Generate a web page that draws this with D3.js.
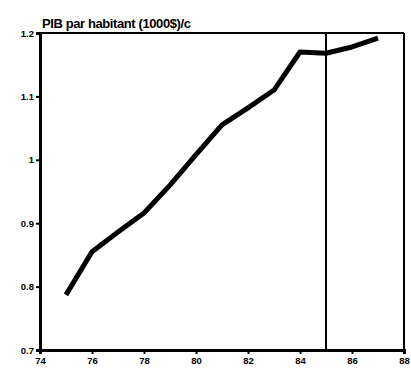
<!DOCTYPE html>
<html>
<head>
<meta charset="utf-8">
<script src="https://cdn.jsdelivr.net/npm/d3@7"></script>
<style>
  body { margin: 0; background: #fff; }
  svg { display: block; }
</style>
</head>
<body>
<div id="chart"></div>
<script>
const width = 411;
const height = 371;
const margin = {top: 33, right: 7, bottom: 21, left: 40};
const innerWidth = width - margin.left - margin.right;
const innerHeight = height - margin.top - margin.bottom;

// PIB par habitant, 1975-1987
const years = [75, 76, 77, 78, 79, 80, 81, 82, 83, 84, 85, 86, 87];
const pib = [0.787, 0.855, 0.886, 0.916, 0.960, 1.008, 1.055, 1.082, 1.110, 1.170, 1.168, 1.178, 1.192];
const xTicks = [74, 76, 78, 80, 82, 84, 86, 88];
const yTicks = [0.7, 0.8, 0.9, 1, 1.1, 1.2];
const markerYear = 85;
const title = "PIB par habitant (1000$)/c";

const svg = d3.select("#chart")
  .append("svg")
  .attr("width", width)
  .attr("height", height);

const x = d3.scaleLinear().domain([74, 88]).range([0, innerWidth]);
const y = d3.scaleLinear().domain([0.7, 1.2]).range([innerHeight, 0]);

const g = svg.append("g")
  .attr("transform", "translate(" + margin.left + "," + margin.top + ")");

// frame top and right
g.append("line")
  .attr("x1", -4).attr("x2", innerWidth)
  .attr("y1", 0).attr("y2", 0)
  .attr("stroke", "#000").attr("stroke-width", 2);
g.append("line")
  .attr("x1", innerWidth).attr("x2", innerWidth)
  .attr("y1", 0).attr("y2", innerHeight)
  .attr("stroke", "#000").attr("stroke-width", 2);

const xAxis = g.append("g")
  .attr("transform", "translate(0," + innerHeight + ")")
  .call(d3.axisBottom(x).tickValues(xTicks).tickSize(4).tickPadding(3).tickFormat(d3.format("d")));

const yAxis = g.append("g")
  .call(d3.axisLeft(y).tickValues(yTicks).tickSize(4).tickPadding(2)
    .tickFormat(d => d === 1 ? "1" : d3.format(".1f")(d)));

[xAxis, yAxis].forEach(a => {
  a.select(".domain").attr("stroke-width", 3);
  a.selectAll(".tick line").attr("stroke-width", 2);
  a.selectAll("text")
    .attr("font-family", "Liberation Sans, Arial, sans-serif")
    .attr("font-weight", "bold")
    .attr("font-size", 9.5)
    .attr("fill", "#000");
});

// vertical marker
g.append("line")
  .attr("x1", x(markerYear)).attr("x2", x(markerYear))
  .attr("y1", 0).attr("y2", innerHeight)
  .attr("stroke", "#000").attr("stroke-width", 2);

const line = d3.line()
  .x((d, i) => x(years[i]))
  .y(d => y(d));

g.append("path")
  .datum(pib)
  .attr("d", line)
  .attr("fill", "none")
  .attr("stroke", "#000")
  .attr("stroke-width", 5)
  .attr("stroke-linejoin", "round");

svg.append("text")
  .text(title)
  .attr("x", 42)
  .attr("y", 28)
  .attr("font-family", "Liberation Sans, Arial, sans-serif")
  .attr("font-weight", "bold")
  .attr("font-size", 13)
  .attr("letter-spacing", -0.4)
  .attr("fill", "#000");
</script>
</body>
</html>
